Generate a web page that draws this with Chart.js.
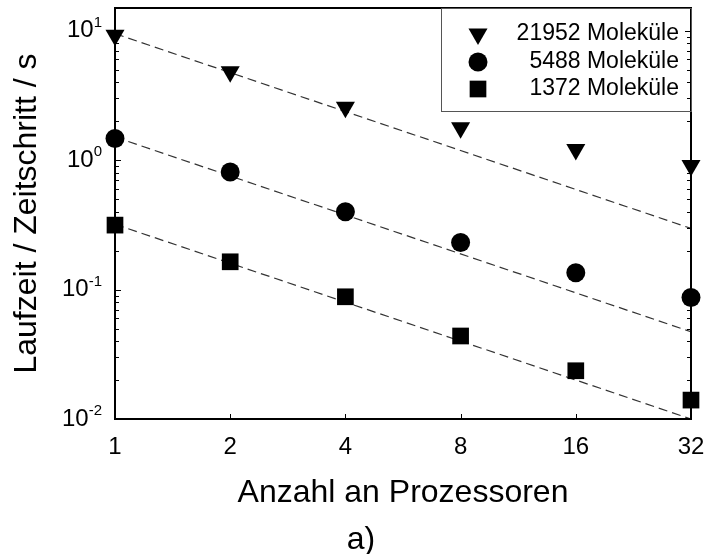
<!DOCTYPE html>
<html>
<head>
<meta charset="utf-8">
<script src="https://cdn.jsdelivr.net/npm/chart.js@4/dist/chart.umd.min.js"></script>
<style>
  html, body { margin: 0; padding: 0; background: #fff; }
  #wrap { width: 708px; height: 554px; }
</style>
</head>
<body>
<div id="wrap"><canvas id="c" width="708" height="554"></canvas></div>
<script>
// ---- data ----
const processors = [1, 2, 4, 8, 16, 32];
const runtime21952 = [9.23, 4.82, 2.56, 1.78, 1.21, 0.91];
const runtime5488 = [1.47, 0.81, 0.40, 0.231, 0.135, 0.087];
const runtime1372 = [0.315, 0.164, 0.088, 0.0438, 0.0236, 0.0140];
const idealX = [1, 32];
const ideal21952 = [9.5, 0.297];
const ideal5488 = [1.51, 0.0472];
const ideal1372 = [0.32, 0.01];
const seriesLabels = ['21952 Moleküle', '5488 Moleküle', '1372 Moleküle'];
const xTickValues = [1, 2, 4, 8, 16, 32];
const yDecades = [0.01, 0.1, 1, 10];
const yExponents = ['-2', '-1', '0', '1'];
const xTitle = 'Anzahl an Prozessoren';
const yTitle = 'Laufzeit / Zeitschritt / s';
const panelLabel = 'a)';

const FONT = "'Liberation Sans', Arial, sans-serif";

function pts(xs, ys) { return xs.map((x, i) => ({ x: x, y: ys[i] })); }

const markerStyles = [
  { pointStyle: 'triangle', rotation: 180, radius: 11 },
  { pointStyle: 'circle', rotation: 0, radius: 9.5 },
  { pointStyle: 'rect', rotation: 0, radius: 11.8 }
];

function markerDataset(label, ys, m) {
  return {
    label: label,
    data: pts(processors, ys),
    showLine: false,
    pointStyle: m.pointStyle,
    rotation: m.rotation,
    pointRadius: m.radius,
    pointHoverRadius: m.radius,
    pointBackgroundColor: '#000',
    pointBorderColor: '#000',
    pointBorderWidth: 0,
    clip: false,
    order: 0
  };
}
function idealDataset(ys) {
  return {
    label: '',
    data: pts(idealX, ys),
    showLine: true,
    borderColor: '#333',
    borderWidth: 1.2,
    borderDash: [9, 5],
    pointRadius: 0,
    pointHoverRadius: 0,
    clip: false,
    order: 1
  };
}

const frameAndTicks = {
  id: 'frameAndTicks',
  afterDatasetsDraw(chart) {
    const ctx = chart.ctx;
    const a = chart.chartArea;
    const xs = chart.scales.x, ys = chart.scales.y;
    ctx.save();
    ctx.strokeStyle = '#000';
    ctx.lineWidth = 1;
    yDecades.forEach((d) => {
      for (let m = 1; m <= 9; m++) {
        const v = d * m;
        if (v > ys.max * 1.0001 || v < ys.min * 0.9999) continue;
        const py = Math.round(ys.getPixelForValue(v)) + 0.5;
        const len = m === 1 ? 6 : 4;
        ctx.beginPath();
        ctx.moveTo(a.left, py); ctx.lineTo(a.left + len, py);
        ctx.moveTo(a.right, py); ctx.lineTo(a.right - len, py);
        ctx.stroke();
      }
    });
    xTickValues.forEach(v => {
      const px = Math.round(xs.getPixelForValue(v)) + 0.5;
      ctx.beginPath();
      ctx.moveTo(px, a.bottom); ctx.lineTo(px, a.bottom - 5);
      ctx.stroke();
    });
    ctx.lineWidth = 2;
    ctx.strokeRect(a.left, a.top, a.right - a.left, a.bottom - a.top);
    ctx.restore();
  },
  afterDraw(chart) {
    const ctx = chart.ctx;
    const ys = chart.scales.y;
    ctx.save();
    ctx.fillStyle = '#000';
    const xRight = 102;
    yDecades.forEach((d, i) => {
      const py = ys.getPixelForValue(d);
      ctx.font = '15px ' + FONT;
      const ew = ctx.measureText(yExponents[i]).width;
      ctx.textBaseline = 'middle';
      ctx.textAlign = 'left';
      ctx.fillText(yExponents[i], xRight - ew, py - 8);
      ctx.font = '24px ' + FONT;
      ctx.textAlign = 'right';
      ctx.fillText('10', xRight - ew, py);
    });
    ctx.font = '32px ' + FONT;
    ctx.textAlign = 'center';
    ctx.textBaseline = 'alphabetic';
    ctx.fillText(panelLabel, 361, 549);

    const box = { left: 441, top: chart.chartArea.top, right: chart.chartArea.right, bottom: 111 };
    ctx.strokeStyle = '#555';
    ctx.lineWidth = 1;
    ctx.strokeRect(box.left + 0.5, box.top + 0.5, box.right - box.left, box.bottom - box.top);
    const rowsY = [34, 62, 89];
    ctx.font = '23px ' + FONT;
    ctx.textAlign = 'right';
    ctx.textBaseline = 'middle';
    seriesLabels.forEach((lab, i) => {
      const m = markerStyles[i];
      const opts = { pointStyle: m.pointStyle, rotation: m.rotation, radius: m.radius, borderWidth: 0 };
      ctx.fillStyle = '#000';
      ctx.strokeStyle = '#000';
      if (Chart.helpers && Chart.helpers.drawPoint) {
        Chart.helpers.drawPoint(ctx, opts, 478, rowsY[i]);
      }
      ctx.fillStyle = '#000';
      ctx.fillText(lab, 679, rowsY[i]);
    });
    ctx.restore();
  }
};

new Chart(document.getElementById('c'), {
  type: 'scatter',
  data: {
    datasets: [
      markerDataset(seriesLabels[0], runtime21952, markerStyles[0]),
      markerDataset(seriesLabels[1], runtime5488, markerStyles[1]),
      markerDataset(seriesLabels[2], runtime1372, markerStyles[2]),
      idealDataset(ideal21952),
      idealDataset(ideal5488),
      idealDataset(ideal1372)
    ]
  },
  options: {
    responsive: false,
    animation: false,
    devicePixelRatio: 1,
    layout: { autoPadding: false, padding: { top: 8, right: 17, bottom: 0, left: 0 } },
    plugins: {
      legend: { display: false },
      tooltip: { enabled: false },
      title: { display: false }
    },
    scales: {
      x: {
        type: 'logarithmic',
        position: 'bottom',
        min: 1,
        max: 32,
        afterBuildTicks(scale) { scale.ticks = xTickValues.map(v => ({ value: v })); },
        afterFit(scale) {
          scale.height = 135;
          scale.paddingLeft = 0;
          scale.paddingRight = 0;
        },
        ticks: {
          autoSkip: false,
          maxRotation: 0,
          minRotation: 0,
          padding: 14,
          color: '#000',
          font: { family: FONT, size: 24 },
          callback: (v) => String(v)
        },
        grid: { display: false, drawTicks: false },
        border: { display: false },
        title: {
          display: true,
          text: xTitle,
          color: '#000',
          font: { family: FONT, size: 32 },
          padding: { top: 0, bottom: 42 }
        }
      },
      y: {
        type: 'logarithmic',
        position: 'left',
        min: 0.01,
        max: 15,
        afterFit(scale) {
          scale.width = 115;
          scale.paddingTop = 0;
          scale.paddingBottom = 0;
        },
        ticks: { display: false },
        grid: { display: false, drawTicks: false },
        border: { display: false },
        title: {
          display: true,
          text: yTitle,
          color: '#000',
          font: { family: FONT, size: 32 },
          padding: { top: 8, bottom: 0 }
        }
      }
    }
  },
  plugins: [frameAndTicks]
});
</script>
</body>
</html>
